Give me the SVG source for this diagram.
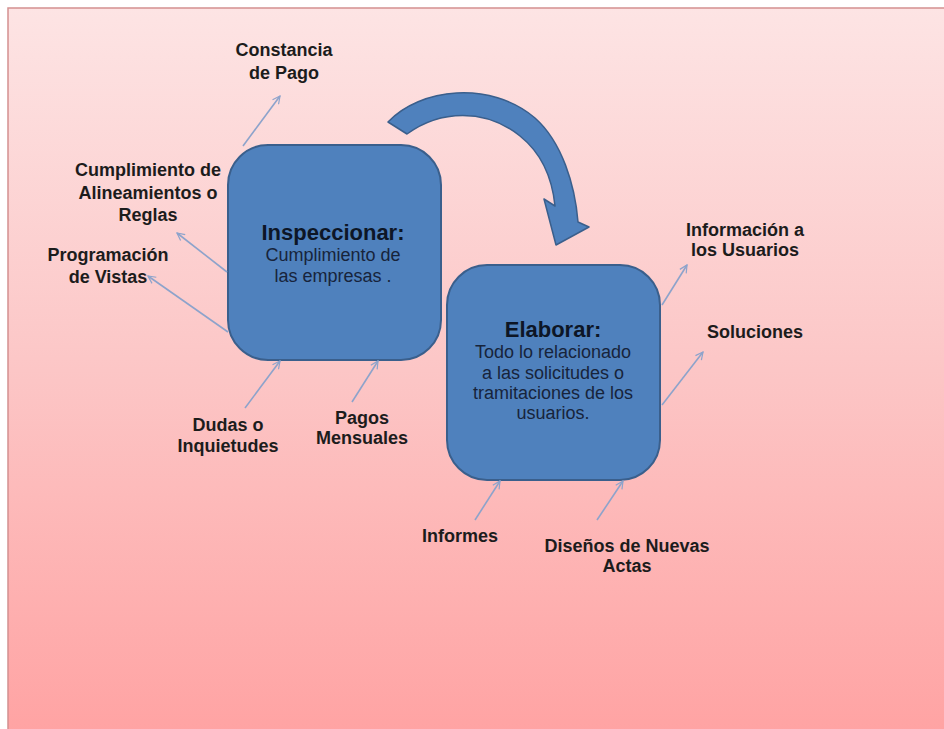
<svg xmlns="http://www.w3.org/2000/svg" width="944" height="729" viewBox="0 0 944 729">
  <style>
    .box { fill: #4f81bd; stroke: #3a5f8c; stroke-width: 2; }
    .title { font-family: "Liberation Sans", Arial, sans-serif; font-weight: bold; font-size: 22px; fill: #0d1626; text-anchor: middle; }
    .body { font-family: "Liberation Sans", Arial, sans-serif; font-size: 18px; fill: #17243b; text-anchor: middle; }
    .label { font-family: "Liberation Sans", Arial, sans-serif; font-weight: bold; font-size: 18px; fill: #1c1c1c; text-anchor: middle; }
    .link { stroke: #8da3cb; stroke-width: 1.6; fill: none; marker-end: url(#open); }
  </style>
  <defs>
    <linearGradient id="bg" x1="0" y1="0" x2="0" y2="1">
      <stop offset="0" stop-color="#fde4e4"/>
      <stop offset="0.5" stop-color="#fcc6c6"/>
      <stop offset="1" stop-color="#ffa3a3"/>
    </linearGradient>
    <marker id="open" viewBox="0 0 12 12" refX="11" refY="6" markerWidth="9" markerHeight="9" markerUnits="userSpaceOnUse" orient="auto">
      <path d="M1,1 L11,6 L1,11" fill="none" stroke="#8da3cb" stroke-width="1.6"/>
    </marker>
  </defs>

  <!-- slide backdrop -->
  <rect x="0" y="0" width="944" height="729" fill="#ffffff"/>
  <rect x="8" y="8" width="940" height="725" fill="url(#bg)" stroke="#d49090" stroke-width="1.5"/>

  <!-- curved flow arrow between the two stages -->
  <g id="flow-arrow">
    <path d="M388,122 C420,88 490,80 535,118 C562,142 575,185 578,222 L589,227 L556,245 L544,199 L555,206 C552,176 540,152 520,136 C485,108 440,110 407,134 Z" fill="#4f81bd" stroke="#3a5f8c" stroke-width="1.5" stroke-linejoin="round"/>
  </g>

  <g id="inspeccionar">
    <rect class="box" x="228" y="145" width="213" height="215" rx="40" ry="40"/>
    <text class="title" x="333" y="240">Inspeccionar:</text>
    <text class="body" x="333" y="261">Cumplimiento de</text>
    <text class="body" x="333" y="282">las empresas .</text>
  </g>

  <g id="elaborar">
    <rect class="box" x="447" y="265" width="213" height="215" rx="40" ry="40"/>
    <text class="title" x="553" y="337">Elaborar:</text>
    <text class="body" x="553" y="358">Todo lo relacionado</text>
    <text class="body" x="553" y="379">a las solicitudes o</text>
    <text class="body" x="553" y="399">tramitaciones de los</text>
    <text class="body" x="553" y="419">usuarios.</text>
  </g>

  <g id="connectors">
    <line class="link" x1="243" y1="146" x2="280" y2="96"/>
    <line class="link" x1="227" y1="272" x2="177" y2="233"/>
    <line class="link" x1="228" y1="332" x2="148" y2="276"/>
    <line class="link" x1="245" y1="408" x2="280" y2="361"/>
    <line class="link" x1="352" y1="402" x2="378" y2="361"/>
    <line class="link" x1="475" y1="520" x2="500" y2="481"/>
    <line class="link" x1="597" y1="520" x2="623" y2="481"/>
    <line class="link" x1="662" y1="305" x2="687" y2="265"/>
    <line class="link" x1="662" y1="405" x2="703" y2="352"/>
  </g>

  <g id="constancia">
    <text class="label" x="284" y="56">Constancia</text>
    <text class="label" x="284" y="79">de  Pago</text>
  </g>
  <g id="cumplimiento">
    <text class="label" x="148" y="176">Cumplimiento de</text>
    <text class="label" x="148" y="199">Alineamientos o</text>
    <text class="label" x="148" y="221">Reglas</text>
  </g>
  <g id="programacion">
    <text class="label" x="108" y="261">Programación</text>
    <text class="label" x="108" y="283">de Vistas</text>
  </g>
  <g id="dudas">
    <text class="label" x="228" y="431">Dudas o</text>
    <text class="label" x="228" y="452">Inquietudes</text>
  </g>
  <g id="pagos">
    <text class="label" x="362" y="424">Pagos</text>
    <text class="label" x="362" y="444">Mensuales</text>
  </g>
  <g id="informes">
    <text class="label" x="460" y="542">Informes</text>
  </g>
  <g id="disenos">
    <text class="label" x="627" y="552">Diseños de Nuevas</text>
    <text class="label" x="627" y="572">Actas</text>
  </g>
  <g id="informacion">
    <text class="label" x="745" y="236">Información a</text>
    <text class="label" x="745" y="256">los Usuarios</text>
  </g>
  <g id="soluciones">
    <text class="label" x="755" y="338">Soluciones</text>
  </g>
</svg>
